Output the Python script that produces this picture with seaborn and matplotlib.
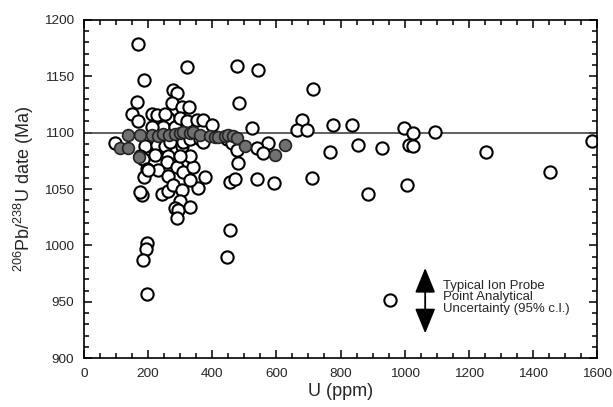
import numpy as np
import pandas as pd
import matplotlib
matplotlib.use("Agg")
import matplotlib.pyplot as plt
import seaborn as sns
from matplotlib.ticker import MultipleLocator

# ==========================================
# DATA
# ==========================================

# open circles: U (ppm), 206Pb/238U date (Ma)
open_u = [169, 188, 320, 478, 544, 715,
          164, 279, 289, 273, 305, 328, 484,
          149, 211, 169, 232, 263, 247, 284,
          227, 253, 299, 320, 351, 372, 398, 211,
          523, 681, 663, 694, 776, 837, 998, 1025, 1095, 1585,
          97, 190, 227, 253, 305, 268, 310, 331, 362, 372, 445, 461, 476,
          575, 539, 557, 767, 854, 930, 1012, 1027, 1253,
          175, 221, 263, 185, 481, 258,
          195, 232, 263, 289, 310, 341, 331, 300, 377, 187, 200,
          455, 471, 541, 594, 712, 1454,
          180, 175, 242, 263, 279, 305, 357, 331,
          300, 284, 294, 331, 289,
          1006, 887,
          455, 445, 195, 193, 185, 195, 954]
open_age = [1179, 1147, 1158, 1159, 1156, 1139,
            1127, 1138, 1135, 1126, 1123, 1123, 1126,
            1117, 1117, 1110, 1114, 1113, 1105, 1105,
            1116, 1117, 1113, 1110, 1111, 1111, 1107, 1105,
            1104, 1111, 1102, 1102, 1107, 1107, 1104, 1100, 1101, 1093,
            1091, 1088, 1089, 1088, 1088, 1092, 1092, 1094, 1094, 1092, 1094, 1091, 1085,
            1091, 1086, 1082, 1083, 1089, 1086, 1089, 1088, 1083,
            1079, 1080, 1079, 1077, 1073, 1074,
            1068, 1067, 1062, 1070, 1065, 1070, 1079, 1079, 1061, 1061, 1067,
            1056, 1059, 1059, 1055, 1060, 1065,
            1045, 1047, 1046, 1048, 1054, 1049, 1051, 1058,
            1039, 1033, 1031, 1034, 1024,
            1054, 1046,
            1014, 990, 1002, 997, 987, 957, 952]

# filled (grey) circles
grey_u = [112, 136, 138, 173, 175, 211, 230, 247, 265, 284, 300, 310, 330,
          341, 362, 393, 410, 419, 440, 450, 465, 476, 502, 596, 627]
grey_age = [1086, 1086, 1098, 1078, 1098, 1098, 1097, 1099, 1098, 1099, 1100, 1101, 1100,
            1101, 1098, 1097, 1096, 1096, 1097, 1098, 1097, 1095, 1088, 1080, 1089]

mean_age = 1100

# uncertainty bar annotation
arrow_u = 1064
arrow_ages = [980, 922]
note_u = 1121
note_age = 954
note_text = "Typical Ion Probe\nPoint Analytical\nUncertainty (95% c.l.)"

open_df = pd.DataFrame({"U": open_u, "Age": open_age})
grey_df = pd.DataFrame({"U": grey_u, "Age": grey_age})

# ==========================================
# PLOT
# ==========================================

sns.set_style("ticks")
plt.rcParams["font.family"] = ["Liberation Sans", "DejaVu Sans"]
plt.rcParams["mathtext.fontset"] = "custom"
plt.rcParams["mathtext.rm"] = "Liberation Sans"

fig, ax = plt.subplots(figsize=(6.13, 4.07), dpi=100)
fig.subplots_adjust(left=0.137, right=0.974, top=0.951, bottom=0.120)

ax.axhline(mean_age, color="#444444", lw=1.2, zorder=1)

sns.scatterplot(data=open_df, x="U", y="Age", ax=ax, s=78,
                facecolor="white", edgecolor="black", linewidth=1.5,
                zorder=2, legend=False)
sns.scatterplot(data=grey_df, x="U", y="Age", ax=ax, s=72,
                facecolor="#707070", edgecolor="#222222", linewidth=1.2,
                zorder=3, legend=False)

ax.annotate("", xy=(arrow_u, arrow_ages[0]), xytext=(arrow_u, arrow_ages[1]),
            arrowprops=dict(arrowstyle="<|-|>,head_length=1.1,head_width=0.45",
                            color="black", lw=1.3, shrinkA=0, shrinkB=0,
                            mutation_scale=14))
ax.text(note_u, note_age, note_text, fontsize=9.5, linespacing=0.95,
        ha="left", va="center")

ax.set_xlim(0, 1600)
ax.set_ylim(900, 1200)
ax.xaxis.set_major_locator(MultipleLocator(200))
ax.xaxis.set_minor_locator(MultipleLocator(50))
ax.yaxis.set_major_locator(MultipleLocator(50))
ax.yaxis.set_minor_locator(MultipleLocator(10))
ax.tick_params(which="both", direction="in", top=True, right=True,
               width=1.1, color="black", labelsize=9.7, pad=7)
ax.tick_params(which="major", length=6)
ax.tick_params(which="minor", length=3.5)
for sp in ax.spines.values():
    sp.set_linewidth(1.2)
    sp.set_color("black")

ax.set_xlabel("U (ppm)", fontsize=13, labelpad=2)
ax.set_ylabel("$^{206}$Pb/$^{238}$U date (Ma)", fontsize=13, labelpad=6)

plt.savefig("out.png", dpi=100)
